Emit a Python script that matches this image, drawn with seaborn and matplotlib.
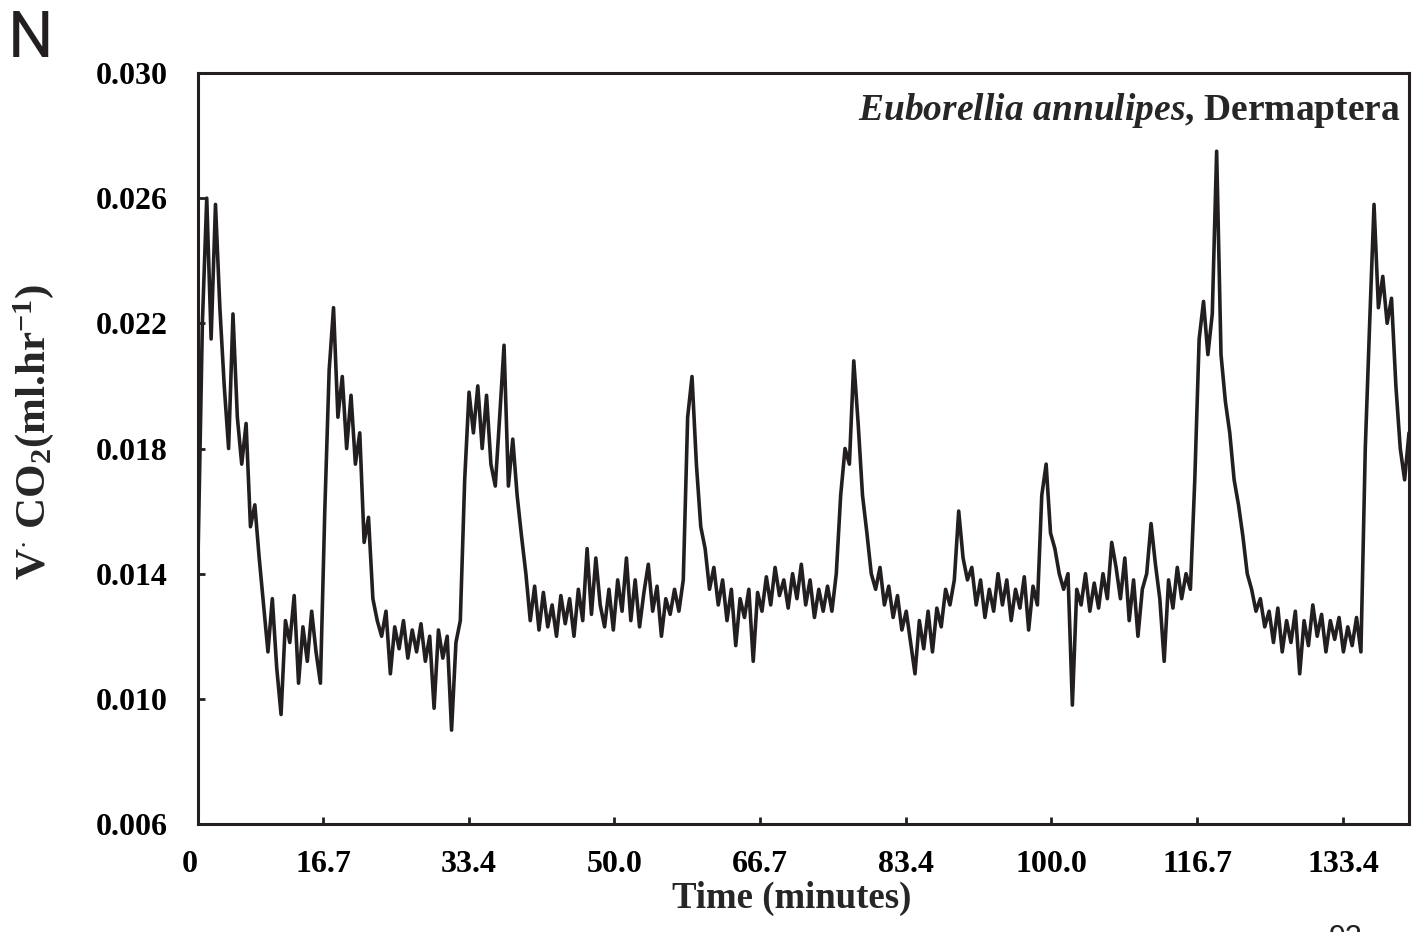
import numpy as np
import pandas as pd
import matplotlib
matplotlib.use("Agg")
import matplotlib.pyplot as plt
import seaborn as sns

# ---- data (VCO2 in ml/hr x 1000, sampled every 0.5 min) ----
vco2_x1000 = [
    14.5, 22.0, 26.0, 21.5, 25.8, 22.5, 20.0, 18.0, 22.3, 19.0,
    17.5, 18.8, 15.5, 16.2, 14.5, 13.0, 11.5, 13.2, 11.0, 9.5,
    12.5, 11.8, 13.3, 10.5, 12.3, 11.2, 12.8, 11.5, 10.5, 16.0,
    20.5, 22.5, 19.0, 20.3, 18.0, 19.7, 17.5, 18.5, 15.0, 15.8,
    13.2, 12.5, 12.0, 12.8, 10.8, 12.3, 11.6, 12.5, 11.3, 12.2,
    11.5, 12.4, 11.2, 12.0, 9.7, 12.2, 11.3, 12.0, 9.0, 11.8,
    12.5, 17.0, 19.8, 18.5, 20.0, 18.0, 19.7, 17.5, 16.8, 19.0,
    21.3, 16.8, 18.3, 16.5, 15.2, 14.0, 12.5, 13.6, 12.2, 13.4,
    12.3, 13.0, 12.0, 13.3, 12.4, 13.2, 12.0, 13.5, 12.5, 14.8,
    12.7, 14.5, 13.0, 12.3, 13.5, 12.2, 13.8, 12.8, 14.5, 12.5,
    13.8, 12.3, 13.4, 14.3, 12.8, 13.6, 12.0, 13.2, 12.7, 13.5,
    12.8, 13.8, 19.0, 20.3, 17.5, 15.5, 14.8, 13.5, 14.2, 13.0,
    13.8, 12.5, 13.5, 11.7, 13.2, 12.6, 13.5, 11.2, 13.4, 12.8,
    13.9, 13.0, 14.2, 13.3, 13.8, 12.9, 14.0, 13.2, 14.3, 13.0,
    13.8, 12.6, 13.5, 12.8, 13.6, 12.8, 14.0, 16.5, 18.0, 17.5,
    20.8, 18.8, 16.5, 15.3, 14.0, 13.5, 14.2, 13.0, 13.6, 12.6,
    13.3, 12.2, 12.8, 11.8, 10.8, 12.5, 11.6, 12.8, 11.5, 12.9,
    12.3, 13.5, 13.0, 13.8, 16.0, 14.5, 13.8, 14.2, 13.0, 13.8,
    12.6, 13.5, 12.8, 14.0, 13.0, 13.8, 12.5, 13.5, 12.9, 13.9,
    12.2, 13.6, 13.0, 16.5, 17.5, 15.3, 14.8, 14.0, 13.5, 14.0,
    9.8, 13.5, 13.0, 14.0, 12.8, 13.7, 12.9, 14.0, 13.2, 15.0,
    14.2, 13.2, 14.5, 12.5, 13.8, 12.0, 13.5, 14.0, 15.6, 14.3,
    13.2, 11.2, 13.8, 12.9, 14.2, 13.2, 14.0, 13.5, 17.0, 21.5,
    22.7, 21.0, 22.3, 27.5, 21.0, 19.5, 18.5, 17.0, 16.2, 15.2,
    14.0, 13.5, 12.8, 13.2, 12.3, 12.8, 11.8, 12.9, 11.5, 12.5,
    11.8, 12.8, 10.8, 12.5, 11.7, 13.0, 12.0, 12.7, 11.5, 12.5,
    11.9, 12.6, 11.5, 12.3, 11.7, 12.6, 11.5, 18.0, 22.0, 25.8,
    22.5, 23.5, 22.0, 22.8, 20.0, 18.0, 17.0, 18.5, 14.5,
]
sample_interval_min = 0.5
first_sample_min = 2.4

x_ticks = [16.7, 33.4, 50.0, 66.7, 83.4, 100.0, 116.7, 133.4]
x_ticklabels = ["16.7", "33.4", "50.0", "66.7", "83.4", "100.0", "116.7", "133.4"]
y_ticks = [0.006, 0.010, 0.014, 0.018, 0.022, 0.026, 0.030]
y_ticklabels = ["0.006", "0.010", "0.014", "0.018", "0.022", "0.026", "0.030"]

vco2 = np.array(vco2_x1000) / 1000.0
time_min = first_sample_min + sample_interval_min * np.arange(len(vco2))
df = pd.DataFrame({"time": time_min, "vco2": vco2})

# ---- style ----
sns.set_style("ticks")
plt.rcParams["font.family"] = ["Liberation Serif", "DejaVu Serif"]
plt.rcParams["mathtext.fontset"] = "custom"
plt.rcParams["mathtext.rm"] = "Liberation Serif:bold"
plt.rcParams["mathtext.it"] = "Liberation Serif:italic:bold"
plt.rcParams["mathtext.bf"] = "Liberation Serif:bold"

ink = "#231f20"
fig = plt.figure(figsize=(14.12, 9.32), dpi=100)
ax = fig.add_axes([198 / 1412, 1 - 824 / 932, (1409 - 198) / 1412, (824 - 73) / 932])

sns.lineplot(data=df, x="time", y="vco2", ax=ax, color=ink, linewidth=2.6)

ax.set_xlim(first_sample_min, 140.9)
ax.set_ylim(0.006, 0.030)

ax.set_xticks([first_sample_min] + x_ticks)
ax.set_xticklabels(["0"] + x_ticklabels)
ax.set_yticks(y_ticks)
ax.set_yticklabels(y_ticklabels)

for lab in ax.get_xticklabels() + ax.get_yticklabels():
    lab.set_fontweight("bold")
    lab.set_fontsize(23)
ax.tick_params(axis="both", direction="in", length=5, width=2, color=ink, labelcolor="black")
ax.tick_params(axis="x", pad=19)
ax.tick_params(axis="y", pad=22)
ax.get_xticklabels()[0].set_horizontalalignment("right")

for sp in ax.spines.values():
    sp.set_visible(True)
    sp.set_linewidth(2.2)
    sp.set_color(ink)

ax.set_xlabel("Time (minutes)", fontsize=26.5, fontweight="bold")
ax.xaxis.set_label_coords((792 - 198) / 1211, (824 - 881) / 751)
ax.set_ylabel(r"V$^{\cdot}$ CO$_{2}$(ml.hr$^{-1}$)", fontsize=31, fontweight="bold")
ax.yaxis.set_label_coords((56 - 198) / 1211, (824 - 432) / 751)

ax.text(0.993, 0.95, r"$\mathit{Euborellia\ annulipes}$, Dermaptera",
        transform=ax.transAxes, ha="right", va="center", fontsize=27, fontweight="bold")

fig.text(8 / 1412, 1 - 8 / 932, "N", ha="left", va="top", fontsize=46,
         family=["Roboto", "DejaVu Sans"], fontweight="normal", color=ink)
fig.text(1345 / 1412, 1 - 924 / 932, "92", ha="center", va="top", fontsize=22,
         family=["Liberation Sans", "DejaVu Sans"], color=ink)

fig.savefig("out.png", dpi=100)
